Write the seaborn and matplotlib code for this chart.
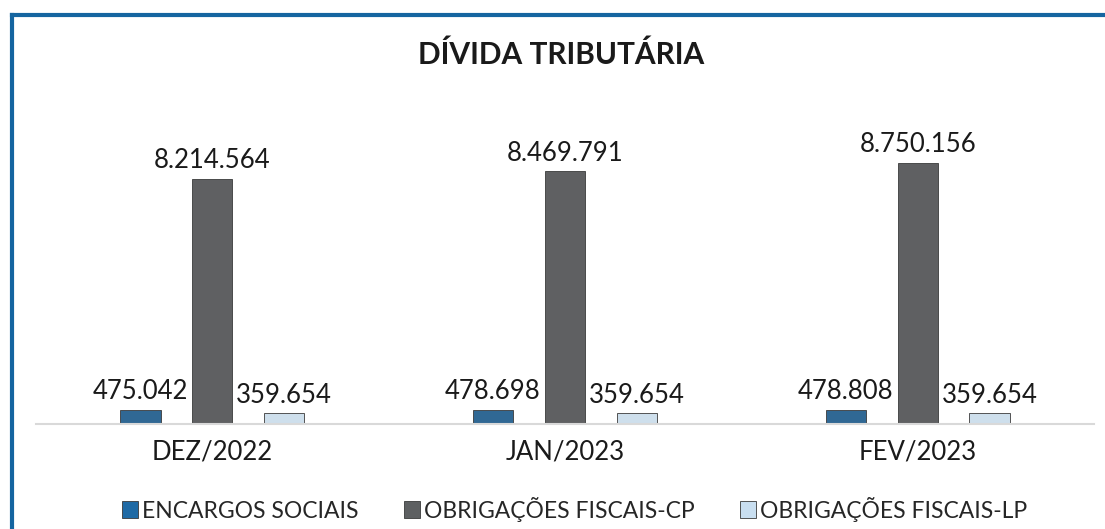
import matplotlib.pyplot as plt
import pandas as pd
import seaborn as sns
from matplotlib.lines import Line2D
from matplotlib.patches import Patch

# data
meses = ["DEZ/2022", "JAN/2023", "FEV/2023"]
series = ["ENCARGOS SOCIAIS", "OBRIGAÇÕES FISCAIS-CP", "OBRIGAÇÕES FISCAIS-LP"]
encargos = [475042, 478698, 478808]
fiscais_cp = [8214564, 8469791, 8750156]
fiscais_lp = [359654, 359654, 359654]
cores = ["#1F6AA5", "#5E6062", "#C9DFF1"]

rows = []
for serie, valores in zip(series, [encargos, fiscais_cp, fiscais_lp]):
    for mes, v in zip(meses, valores):
        rows.append({"mes": mes, "serie": serie, "valor": v})
df = pd.DataFrame(rows)

sns.set_theme(style="white")
plt.rcParams["font.family"] = ["Lato", "DejaVu Sans"]

fig = plt.figure(figsize=(11.05, 5.29), dpi=100)
ax = fig.add_axes([36 / 1105, 105 / 529, 1058 / 1105, 324 / 529])

sns.barplot(data=df, x="mes", y="valor", hue="serie", hue_order=series,
            palette=cores, width=0.612, gap=0.44, ax=ax, legend=False,
            edgecolor="#3a3a3a", linewidth=0.6)

for cont in ax.containers:
    ax.bar_label(cont, labels=[f"{v:,.0f}".replace(",", ".") for v in cont.datavalues],
                 fontsize=18.5, padding=4, color="#1a1a1a")

ax.set_xlim(-0.5, 2.5)
ax.set_ylim(0, 10.85e6)
ax.set_xlabel("")
ax.set_ylabel("")
ax.set_yticks([])
ax.tick_params(axis="x", labelsize=18.5, pad=11, length=0, colors="#1a1a1a")
for s in ["top", "right", "left"]:
    ax.spines[s].set_visible(False)
ax.spines["bottom"].set_color("#D9D9D9")
ax.spines["bottom"].set_linewidth(1.5)

fig.text(0.508, 1 - 55 / 529, "DÍVIDA TRIBUTÁRIA", ha="center", va="center",
         fontsize=21.5, fontweight="bold", color="#1a1a1a")

handles = [Patch(facecolor=c, edgecolor="#3a3a3a", linewidth=0.6) for c in cores]
fig.legend(handles, series, loc="center", bbox_to_anchor=(0.52, 1 - 509 / 529),
           ncol=3, frameon=False, fontsize=16.5, handlelength=0.7, handleheight=0.7,
           handletextpad=0.15, columnspacing=2.0)

# moldura azul (so esquerda e topo visiveis)
x0 = 11.5 / 1105
y0 = 1 - 14.5 / 529
fig.add_artist(Line2D([x0, x0], [-0.1, y0], color="#1565A0", linewidth=3,
                      transform=fig.transFigure, solid_capstyle="projecting"))
fig.add_artist(Line2D([x0, 1.1], [y0, y0], color="#1565A0", linewidth=3,
                      transform=fig.transFigure, solid_capstyle="projecting"))

plt.savefig("out.png", dpi=100)
plt.close()
